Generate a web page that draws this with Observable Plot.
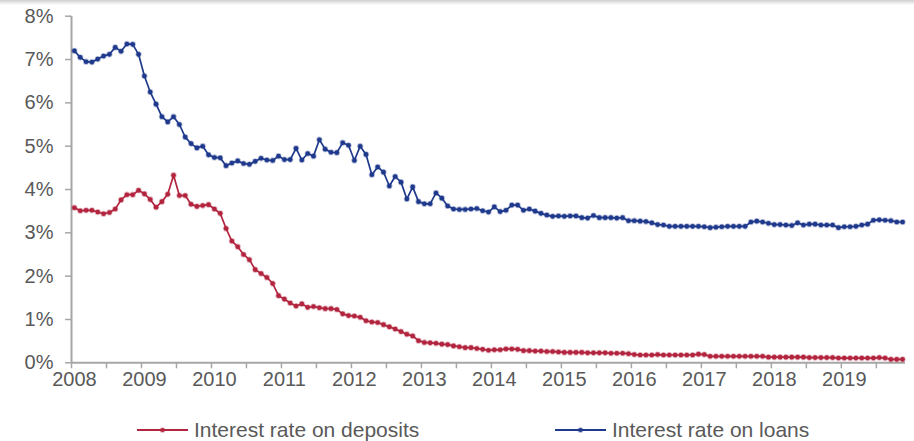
<!DOCTYPE html>
<html><head><meta charset="utf-8">
<script src="https://cdn.jsdelivr.net/npm/d3@7"></script>
<script src="https://cdn.jsdelivr.net/npm/@observablehq/plot@0.6"></script>
<style>
html,body{margin:0;padding:0;background:#fff;}
body{width:914px;height:441px;position:relative;overflow:hidden;font-family:"Liberation Sans",Arial,sans-serif;}
#topbar{position:absolute;left:0;top:0;width:914px;height:5px;background:linear-gradient(#cfcfcf,#ffffff);}
#chart{position:absolute;left:0;top:0;}
#legend{position:absolute;left:0;top:405px;width:914px;height:36px;}
.item{position:absolute;top:10px;height:30px;display:flex;align-items:center;font-size:21px;color:#595959;white-space:nowrap;}
.item svg{margin-right:6px;}
</style></head><body>
<div id="chart"></div>
<div id="legend"></div>
<div id="topbar"></div>
<script>
// Monthly data, Jan 2008 – Nov 2019
const startYear = 2008;
const seriesNames = ["Interest rate on deposits", "Interest rate on loans"];
const seriesColors = ["#B3243F", "#1F3A8C"];
const yTicks = [0, 1, 2, 3, 4, 5, 6, 7, 8];
const yearLabels = ["2008","2009","2010","2011","2012","2013","2014","2015","2016","2017","2018","2019"];

const deposits = [
  3.58, 3.51, 3.52, 3.52, 3.48, 3.44, 3.47, 3.55, 3.76, 3.88, 3.88, 3.98,
  3.90, 3.77, 3.59, 3.72, 3.89, 4.33, 3.86, 3.86, 3.66, 3.61, 3.63, 3.65,
  3.55, 3.45, 3.10, 2.81, 2.68, 2.50, 2.38, 2.15, 2.06, 1.97, 1.83, 1.55,
  1.47, 1.38, 1.31, 1.36, 1.28, 1.30, 1.27, 1.25, 1.25, 1.23, 1.13, 1.09,
  1.08, 1.05, 0.97, 0.94, 0.93, 0.88, 0.83, 0.78, 0.72, 0.66, 0.62, 0.51,
  0.47, 0.46, 0.45, 0.43, 0.42, 0.39, 0.37, 0.35, 0.35, 0.33, 0.31, 0.29,
  0.30, 0.30, 0.32, 0.32, 0.31, 0.28, 0.28, 0.27, 0.27, 0.26, 0.26, 0.25,
  0.24, 0.24, 0.24, 0.24, 0.23, 0.23, 0.23, 0.23, 0.22, 0.22, 0.22, 0.21,
  0.19, 0.18, 0.18, 0.18, 0.19, 0.18, 0.18, 0.18, 0.18, 0.18, 0.18, 0.20,
  0.19, 0.15, 0.15, 0.15, 0.15, 0.15, 0.15, 0.15, 0.15, 0.15, 0.15, 0.13,
  0.13, 0.13, 0.13, 0.13, 0.13, 0.13, 0.12, 0.12, 0.12, 0.12, 0.12, 0.11,
  0.11, 0.11, 0.11, 0.11, 0.11, 0.11, 0.12, 0.11, 0.08, 0.08, 0.08
];

const loans = [
  7.20, 7.05, 6.95, 6.94, 7.01, 7.08, 7.12, 7.28, 7.19, 7.36, 7.35, 7.12,
  6.62, 6.25, 5.97, 5.68, 5.56, 5.68, 5.50, 5.21, 5.06, 4.96, 5.00, 4.80,
  4.74, 4.73, 4.55, 4.61, 4.66, 4.60, 4.58, 4.65, 4.72, 4.68, 4.67, 4.77,
  4.69, 4.69, 4.95, 4.68, 4.83, 4.77, 5.15, 4.93, 4.86, 4.85, 5.08, 5.02,
  4.67, 5.00, 4.81, 4.34, 4.52, 4.40, 4.08, 4.30, 4.17, 3.78, 4.06, 3.72,
  3.67, 3.67, 3.92, 3.80, 3.62, 3.55, 3.54, 3.54, 3.55, 3.56, 3.51, 3.48,
  3.60, 3.49, 3.52, 3.64, 3.64, 3.52, 3.55, 3.50, 3.45, 3.41, 3.38, 3.39,
  3.38, 3.39, 3.39, 3.35, 3.34, 3.40, 3.35, 3.35, 3.35, 3.34, 3.35, 3.28,
  3.28, 3.27, 3.26, 3.23, 3.19, 3.18, 3.15, 3.15, 3.15, 3.15, 3.15, 3.15,
  3.14, 3.12, 3.13, 3.14, 3.15, 3.15, 3.15, 3.15, 3.25, 3.27, 3.25, 3.22,
  3.19, 3.19, 3.18, 3.17, 3.23, 3.18, 3.20, 3.20, 3.18, 3.18, 3.18, 3.12,
  3.14, 3.14, 3.15, 3.18, 3.20, 3.29, 3.30, 3.29, 3.28, 3.25, 3.25
];

const nMonths = deposits.length;
const rows = [];
[deposits, loans].forEach((arr, k) => {
  arr.forEach((v, i) => rows.push({m: i + 0.5, v, s: seriesNames[k]}));
});

const halfYearTicks = d3.range(0, nMonths, 6);
const yearLabelPos = yearLabels.map((y, k) => k * 12 + 0.5);

const colorScale = {domain: seriesNames, range: seriesColors};

const chart = Plot.plot({
  width: 914,
  height: 405,
  marginLeft: 71,
  marginRight: 9,
  marginTop: 15.7,
  marginBottom: 42.7,
  style: {fontFamily: '"Liberation Sans", Arial, sans-serif', fontSize: "20px", color: "#595959", background: "transparent"},
  x: {domain: [0, nMonths]},
  y: {domain: [0, 8]},
  color: colorScale,
  marks: [
    Plot.axisY({ticks: yTicks, tickFormat: d => d + "%", tickSize: 6, tickPadding: 12, stroke: "#a6a6a6", strokeWidth: 1.5, fill: "#595959", label: null}),
    Plot.axisX({ticks: halfYearTicks, tickFormat: () => "", tickSize: 6, stroke: "#a6a6a6", strokeWidth: 1.5, label: null}),
    Plot.axisX({ticks: yearLabelPos, tickFormat: d => yearLabels[Math.round((d - 0.5) / 12)], tickSize: 0, tickPadding: 9, fill: "#595959", label: null}),
    Plot.ruleX([0], {stroke: "#a6a6a6", strokeWidth: 2}),
    Plot.ruleY([0], {stroke: "#a6a6a6", strokeWidth: 2}),
    Plot.line(rows, {x: "m", y: "v", z: "s", stroke: "s", strokeWidth: 1.7}),
    Plot.dot(rows, {x: "m", y: "v", fill: "s", stroke: "s", r: 2.3, strokeOpacity: 0.35, strokeWidth: 1.6})
  ]
});
document.getElementById("chart").appendChild(chart);

// Legend
const legend = document.getElementById("legend");
const legendX = [137, 555];
seriesNames.forEach((name, k) => {
  const div = document.createElement("div");
  div.className = "item";
  div.style.left = legendX[k] + "px";
  const c = seriesColors[k];
  div.innerHTML = `<svg width="51" height="10"><line x1="0" y1="5" x2="51" y2="5" stroke="${c}" stroke-width="1.8"/><circle cx="25.5" cy="5" r="2.1" fill="${c}" stroke="${c}" stroke-opacity="0.35" stroke-width="1.5"/></svg><span>${name}</span>`;
  legend.appendChild(div);
});
</script>
</body></html>
